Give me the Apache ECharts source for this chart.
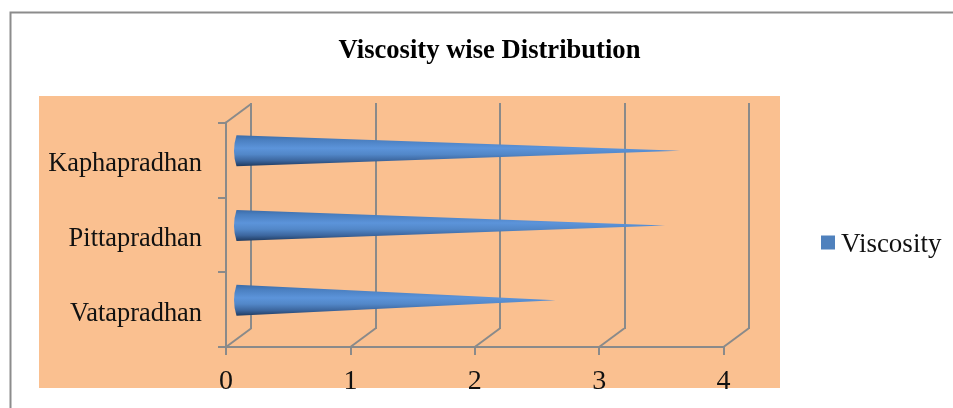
<!DOCTYPE html>
<html><head><meta charset="utf-8">
<style>html,body{margin:0;padding:0;background:#fff;overflow:hidden}#c{width:953px;height:408px}</style>
<script src="https://cdn.jsdelivr.net/npm/echarts@6/dist/echarts.min.js"></script>
</head><body><div id="c"></div>
<script>
const chartTitle = 'Viscosity wise Distribution';
const seriesName = 'Viscosity';
const categories = ['Vatapradhan', 'Pittapradhan', 'Kaphapradhan'];
const viscosity = [2.55, 3.43, 3.55];
const valueTicks = [0, 1, 2, 3, 4];

const FONT = '"Liberation Serif","Times New Roman",serif';
const LINE = '#8a8a8a';
const DX = 25, DY = -18.5;   // 3D depth of the chart box

const chart = echarts.init(document.getElementById('c'), null, {renderer: 'canvas'});
chart.setOption({
  animation: false,
  backgroundColor: '#fff',
  title: {
    text: chartTitle, left: 484.5, top: 32.5, textAlign: 'center',
    textStyle: {fontFamily: FONT, fontSize: 26.6, fontWeight: 'bold', color: '#000'}
  },
  legend: {
    data: [seriesName], left: 816, top: 226, icon: 'rect', itemWidth: 14, itemHeight: 14, itemGap: 6,
    formatter: '{a|{name}}',
    textStyle: {fontFamily: FONT, fontSize: 27, color: '#111',
      rich: {a: {fontFamily: FONT, fontSize: 27, color: '#111', padding: [4, 0, 0, 1]}}}
  },
  graphic: [
    {type: 'rect', z: -10, silent: true, shape: {x: 39, y: 96, width: 741, height: 292}, style: {fill: '#FAC090'}},
    {type: 'rect', z: -10, silent: true, shape: {x: 10.5, y: 12.5, width: 1100, height: 600},
     style: {fill: 'none', stroke: '#8c8c8c', lineWidth: 2}}
  ],
  grid: [
    {left: 226, top: 122.5, width: 497.5, height: 224.5},
    {left: 251, top: 103, width: 498, height: 226}
  ],
  xAxis: [
    {gridIndex: 0, type: 'value', min: 0, max: 4, interval: 1,
     axisLine: {show: true, lineStyle: {color: LINE, width: 2}},
     axisTick: {show: true, length: 8, lineStyle: {color: LINE, width: 2}},
     splitLine: {show: false},
     axisLabel: {margin: 21, fontFamily: FONT, fontSize: 28, color: '#111',
       customValues: valueTicks, showMinLabel: true, showMaxLabel: true}},
    {gridIndex: 1, type: 'value', min: 0, max: 4, interval: 1,
     axisLine: {show: false}, axisTick: {show: false}, axisLabel: {show: false},
     splitLine: {show: true, lineStyle: {color: LINE, width: 2}}}
  ],
  yAxis: [
    {gridIndex: 0, type: 'category', data: categories,
     axisLine: {show: true, lineStyle: {color: LINE, width: 2}},
     axisTick: {show: true, length: 8, lineStyle: {color: LINE, width: 2}},
     splitLine: {show: false},
     axisLabel: {margin: 24, fontFamily: FONT, fontSize: 26.4, color: '#111', verticalAlign: 'top', lineHeight: 8}},
    {gridIndex: 1, type: 'value', min: 0, max: 1, show: false, splitLine: {show: false}}
  ],
  series: [
    {
      type: 'custom', name: 'depth', xAxisIndex: 0, yAxisIndex: 0, silent: true, clip: false, z: 1,
      data: valueTicks.map(t => [t]),
      encode: {x: 0},
      renderItem: function (params, api) {
        const v = api.value(0);
        const g = params.coordSys;
        const x = api.coord([v, 0])[0];
        const lines = [{x1: x, y1: g.y + g.height, x2: x + DX, y2: g.y + g.height + DY}];
        if (v === valueTicks[0]) lines.push({x1: x, y1: g.y, x2: x + DX, y2: g.y + DY});
        return {type: 'group', children: lines.map(s => ({
          type: 'line', shape: s, style: {stroke: LINE, lineWidth: 2, fill: 'none'}
        }))};
      }
    },
    {
      type: 'custom', name: seriesName, xAxisIndex: 0, yAxisIndex: 0, clip: false, z: 3,
      itemStyle: {color: '#4F81BD'},
      data: categories.map((c, i) => [c, viscosity[i]]),
      encode: {x: 1, y: 0},
      renderItem: function (params, api) {
        const p0 = api.coord([0, api.value(0)]);
        const p1 = api.coord([api.value(1), api.value(0)]);
        const cy = p0[1] + DY / 2;
        const xb = p0[0] + 10.5, tip = p1[0] + DX / 2, h = 15.5;
        const d = 'M' + xb + ' ' + (cy - h) +
          ' L' + tip + ' ' + cy +
          ' L' + xb + ' ' + (cy + h) +
          ' Q' + (xb - 5) + ' ' + cy + ' ' + xb + ' ' + (cy - h) + ' Z';
        return {
          type: 'path',
          shape: {pathData: d},
          style: {
            fill: new echarts.graphic.LinearGradient(0, 0, 0, 1, [
              {offset: 0, color: '#3C6CA8'},
              {offset: 0.15, color: '#4A7FC0'},
              {offset: 0.42, color: '#5C94DA'},
              {offset: 0.62, color: '#5287C8'},
              {offset: 0.82, color: '#3C669E'},
              {offset: 1, color: '#1F3A5F'}
            ]),
            stroke: 'none'
          }
        };
      }
    }
  ]
});
</script></body></html>
